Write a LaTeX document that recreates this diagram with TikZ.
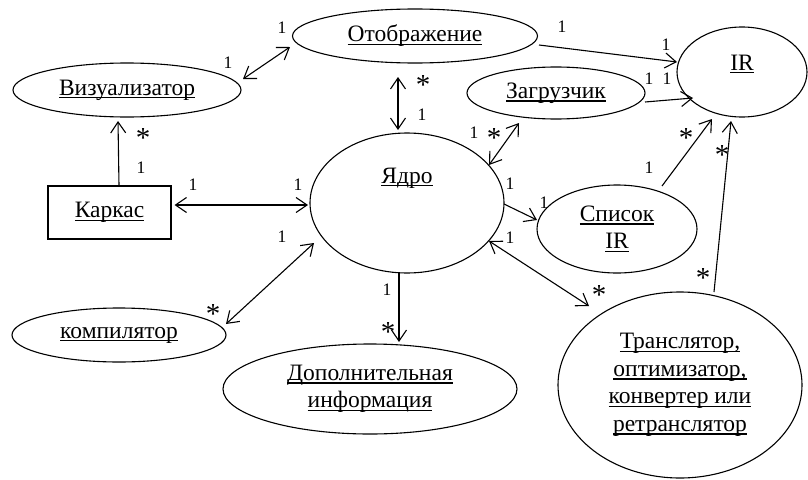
\documentclass[tikz,border=0pt]{standalone}
\usepackage{fontspec}
\setmainfont{Liberation Serif}
\usetikzlibrary{shapes.geometric,arrows.meta}
\newcommand{\myul}[1]{\leavevmode\setbox0=\hbox{#1}\rlap{\rule[-0.14em]{\wd0}{0.06em}}\box0}
\begin{document}
\begin{tikzpicture}[x=1pt,y=-1pt,
  ell/.style={ellipse, draw, line width=1.1pt, inner sep=0pt},
  mtxt/.style={font=\fontsize{23.5}{27.5}\selectfont, align=center},
  lab/.style={font=\fontsize{17.5}{20}\selectfont, inner sep=0pt},
  starlab/.style={font=\fontsize{29}{32}\selectfont, inner sep=0pt},
  conn/.style={line width=1.1pt},
  >={Straight Barb[length=11pt,width=15pt]}]
\useasboundingbox (0,0) rectangle (808,479);
% nodes
\node[ell, minimum width=228, minimum height=54, mtxt] (vis) at (127,90) {\myul{Визуализатор}};
\node[ell, minimum width=245, minimum height=54, mtxt] (otob) at (415,36) {\myul{Отображение}};
\node[ell, minimum width=130, minimum height=90] (ir) at (742,72) {};
\node[mtxt] (irtxt) at (742,64) {\myul{IR}};
\node[ell, minimum width=178, minimum height=52, mtxt] (zagr) at (556,93) {\myul{Загрузчик}};
\node[ell, minimum width=194, minimum height=140] (yadro) at (407,203) {};
\node[mtxt] (yadrotxt) at (407,178) {\myul{Ядро}};
\node[draw, line width=1.1pt, minimum width=123, minimum height=53, inner sep=0pt, mtxt] (karkas) at (109.5,212.5) {\myul{Каркас}};
\node[ell, minimum width=160, minimum height=88, mtxt] (spisok) at (617,229) {\myul{Список}\\\myul{IR}};
\node[ell, minimum width=214, minimum height=54, mtxt] (komp) at (119,335) {\myul{компилятор}};
\node[ell, minimum width=294, minimum height=90, mtxt] (dop) at (370,389) {\myul{Дополнительная}\\\myul{информация}};
\node[ell, minimum width=244, minimum height=186, mtxt] (trans) at (680,385) {\myul{Транслятор,}\\\myul{оптимизатор,}\\\myul{конвертер или}\\\myul{ретранслятор}};
% connectors
\draw[conn,<->] ([shift={(116,-11)}]vis.center) -- ([shift={(-125,11)}]otob.center);
\draw[conn,<->] ([shift={(-17,41)}]otob.center) -- ([shift={(-9,-73)}]yadro.center);
\draw[conn,->] ([shift={(9.5,0)}]karkas.north) -- ([shift={(-9,31)}]vis.center);
\draw[conn,<->] ([shift={(3,-7.5)}]karkas.east) -- ([shift={(-99,2)}]yadro.center);
\draw[conn,->] ([shift={(124,9)}]otob.center) -- ([shift={(-65,-10)}]ir.center);
\draw[conn,->] ([shift={(89,9)}]zagr.center) -- ([shift={(-49,26)}]ir.center);
\draw[conn,<->] ([shift={(82,-38)}]yadro.center) -- ([shift={(-37,30)}]zagr.center);
\draw[conn,->] ([shift={(97,1)}]yadro.center) -- ([shift={(-80,-9)}]spisok.center);
\draw[conn,->] ([shift={(45,-43)}]spisok.center) -- ([shift={(-30,47)}]ir.center);
\draw[conn,->] ([shift={(34,-93)}]trans.center) -- ([shift={(-11,49)}]ir.center);
\draw[conn,<->] ([shift={(82,38)}]yadro.center) -- ([shift={(-91,-79)}]trans.center);
\draw[conn,<->] ([shift={(-93,40)}]yadro.center) -- ([shift={(107,-11)}]komp.center);
\draw[conn,->] ([shift={(-8,70)}]yadro.center) -- ([shift={(29,-47)}]dop.center);
% multiplicities
\node[lab] (m1) at (228,63) {1};
\node[lab] (m2) at (282,28) {1};
\node[starlab] (m3) at (423,85) {*};
\node[lab] (m4) at (422,115) {1};
\node[starlab] (m5) at (143,138) {*};
\node[lab] (m6) at (141,168) {1};
\node[lab] (m7) at (193,185) {1};
\node[lab] (m8) at (298,185) {1};
\node[lab] (m9) at (562,27) {1};
\node[lab] (m10) at (666,45) {1};
\node[lab] (m11) at (649,79) {1};
\node[lab] (m12) at (667,79) {1};
\node[lab] (m13) at (474,133) {1};
\node[starlab] (m14) at (494,138) {*};
\node[lab] (m15) at (510,184) {1};
\node[lab] (m16) at (544,203) {1};
\node[starlab] (m17) at (686,138) {*};
\node[lab] (m18) at (649,168) {1};
\node[starlab] (m19) at (722,155) {*};
\node[starlab] (m20) at (703,278) {*};
\node[lab] (m21) at (510,238) {1};
\node[starlab] (m22) at (599,295) {*};
\node[lab] (m23) at (282,237) {1};
\node[starlab] (m24) at (213,314) {*};
\node[lab] (m25) at (387,290) {1};
\node[starlab] (m26) at (388,332) {*};
\end{tikzpicture}
\end{document}
